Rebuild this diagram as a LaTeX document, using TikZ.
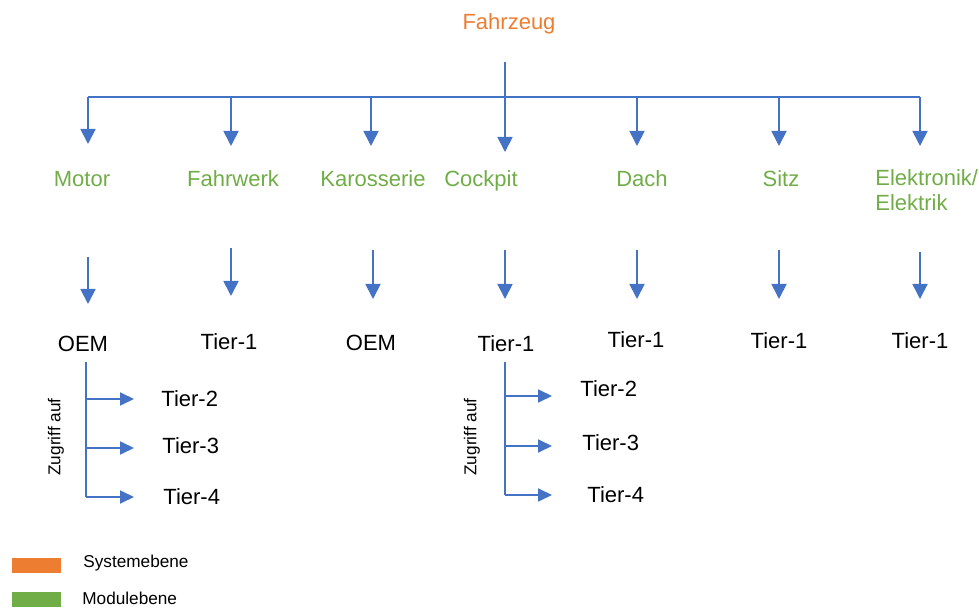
\documentclass[tikz,border=0pt]{standalone}
\usepackage{fontspec}
\setmainfont{Liberation Sans}
\usetikzlibrary{arrows.meta}
\definecolor{sysorange}{HTML}{ED7D31}
\definecolor{modgreen}{HTML}{70AD47}
\definecolor{linkblue}{HTML}{4472C4}
\begin{document}
\begin{tikzpicture}[x=0.5pt,y=-0.5pt,
  lbl/.style={inner sep=0pt,font=\fontsize{11}{14}\selectfont},
  syslbl/.style={lbl,text=sysorange},
  modlbl/.style={lbl,text=modgreen},
  tierlbl/.style={lbl,text=black},
  smalllbl/.style={inner sep=0pt,font=\fontsize{8.6}{10}\selectfont},
  link/.style={draw=linkblue,line width=0.9pt},
  arr/.style={link,-{Triangle[width=7.5pt,length=7.5pt]}},
  subarr/.style={link,-{Triangle[width=6.5pt,length=7pt]}},
  legendbox/.style={minimum width=24.5pt,minimum height=7.5pt,inner sep=0pt,anchor=north west}]
\useasboundingbox (0,0) rectangle (979,608);

% system level
\node[syslbl,anchor=base] (fahrzeug) at (509,30) {Fahrzeug};

% module level
\node[modlbl,anchor=base] (motor) at (82,187) {Motor};
\node[modlbl,anchor=base] (fahrwerk) at (233,187) {Fahrwerk};
\node[modlbl,anchor=base] (karosserie) at (373,187) {Karosserie};
\node[modlbl,anchor=base] (cockpit) at (481,187) {Cockpit};
\node[modlbl,anchor=base] (dach) at (642,187) {Dach};
\node[modlbl,anchor=base] (sitz) at (781,187) {Sitz};
\node[modlbl,anchor=base west,align=left] (elektronik) at (875,211) {Elektronik/\\[-1.5pt]Elektrik};

% supplier level
\node[tierlbl,anchor=base] (oemA) at (83,352) {OEM};
\node[tierlbl,anchor=base] (tierFw) at (229,350) {Tier-1};
\node[tierlbl,anchor=base] (oemB) at (371,351) {OEM};
\node[tierlbl,anchor=base] (tierCp) at (506,352) {Tier-1};
\node[tierlbl,anchor=base] (tierDa) at (636,348) {Tier-1};
\node[tierlbl,anchor=base] (tierSi) at (779,349) {Tier-1};
\node[tierlbl,anchor=base] (tierEl) at (920,349) {Tier-1};

% sub-tiers reached by the OEM
\node[tierlbl,anchor=west] (oemT2) at (161,399) {Tier-2};
\node[tierlbl,anchor=west] (oemT3) at (162,446) {Tier-3};
\node[tierlbl,anchor=west] (oemT4) at (163,497) {Tier-4};
\node[smalllbl,rotate=90] (zugriffA) at (56,437) {Zugriff auf};

% sub-tiers reached by the cockpit Tier-1
\node[tierlbl,anchor=west] (cpT2) at (580,389) {Tier-2};
\node[tierlbl,anchor=west] (cpT3) at (582,443) {Tier-3};
\node[tierlbl,anchor=west] (cpT4) at (587,495) {Tier-4};
\node[smalllbl,rotate=90] (zugriffB) at (472,437) {Zugriff auf};

% distribution bar from the vehicle to the modules
\coordinate (top) at (505,62);
\coordinate (barL) at (88,97);
\coordinate (barR) at (920,97);
\foreach \n/\x/\t in {m/88/144, fw/231/146, ka/371/146, cp/505/152, da/637/146, si/779/146, el/920/146}{
  \coordinate (in-\n) at (\x,\t);
}
\draw[link] (barL) -- (barR);
\draw[arr] (top) -- (in-cp);
\foreach \n in {m,fw,ka,da,si,el}{
  \draw[arr] (in-\n |- barL) -- (in-\n);
}

% arrows from modules to their suppliers
\foreach \n/\x/\a/\b in {m/88/257/304, fw/231/248/296, ka/373/250/299, cp/505/250/299, da/637/250/299, si/779/250/299, el/920/252/299}{
  \coordinate (s-\n) at (\x,\a);
  \coordinate (e-\n) at (\x,\b);
  \draw[arr] (s-\n) -- (e-\n);
}

% access tree below the OEM
\coordinate (accA) at (86,362);
\coordinate (accA2) at (134,399);
\coordinate (accA3) at (134,448);
\coordinate (accA4) at (134,497);
\draw[link] (accA) -- (accA |- accA4);
\foreach \c in {accA2,accA3,accA4}{\draw[subarr] (accA |- \c) -- (\c);}

% access tree below the cockpit Tier-1
\coordinate (accB) at (505,362);
\coordinate (accB2) at (552,396);
\coordinate (accB3) at (552,446);
\coordinate (accB4) at (552,495);
\draw[link] (accB) -- (accB |- accB4);
\foreach \c in {accB2,accB3,accB4}{\draw[subarr] (accB |- \c) -- (\c);}

% legend
\node[legendbox,fill=sysorange] (legSys) at (12,558) {};
\node[legendbox,fill=modgreen] (legMod) at (12,592) {};
\node[smalllbl,anchor=west] (legSysT) at (83,563) {Systemebene};
\node[smalllbl,anchor=west] (legModT) at (82,598) {Modulebene};
\end{tikzpicture}
\end{document}
